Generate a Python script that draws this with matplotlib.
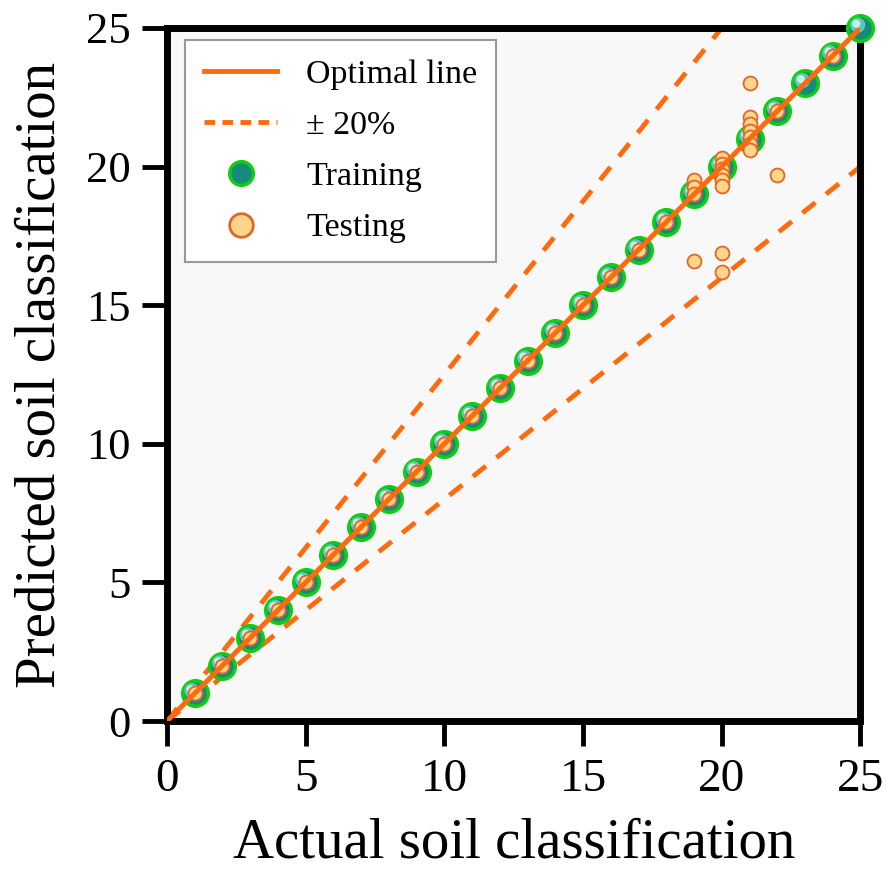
import matplotlib
matplotlib.use("Agg")
import matplotlib.pyplot as plt
import matplotlib.transforms as mtransforms
from matplotlib.lines import Line2D
import numpy as np

# ---- data ----
train_actual = list(range(1, 26))
train_pred = list(range(1, 26))

test_actual = [1, 2, 3, 4, 5, 6, 7, 8, 9, 10, 11, 12, 13, 14, 15, 16, 17, 18,
               19, 19, 19, 19,
               20, 20, 20, 20, 20, 20, 20, 20,
               21, 21, 21, 21, 21, 21, 21,
               22, 22, 24]
test_pred = [1, 2, 3, 4, 5, 6, 7, 8, 9, 10, 11, 12, 13, 14, 15, 16, 17, 18,
             19.5, 19.25, 19.0, 16.6,
             20.3, 20.1, 19.9, 19.7, 19.5, 19.3, 16.9, 16.2,
             21.8, 21.55, 21.3, 21.05, 20.8, 20.6, 23.0,
             22.0, 19.7, 24]

axis_limits = [0, 25]
ticks = [0, 5, 10, 15, 20, 25]
upper_factor = 1.25
lower_factor = 0.8

orange = "#ff6a0e"
serif = ["Liberation Serif", "DejaVu Serif"]

fig = plt.figure(figsize=(8.88, 8.72), dpi=100)
ax = fig.add_axes([0.188, 0.173, 0.781, 0.795])
ax.set_facecolor("#f8f8f8")

xs = np.array(axis_limits, dtype=float)
# dashed +-20% lines
ax.plot(xs, upper_factor * xs, color=orange, lw=3.5, ls=(0, (3.4, 2.8)), zorder=2)
ax.plot(xs, lower_factor * xs, color=orange, lw=3.5, ls=(0, (3.4, 2.8)), zorder=2)

# training points
ax.scatter(train_actual, train_pred, s=340, facecolor="#168a7c", edgecolor="#12cc12",
           linewidth=2.5, zorder=3, clip_on=False)
hl = ax.transData + mtransforms.ScaledTranslation(-2.0 / 72, 2.0 / 72, fig.dpi_scale_trans)
ax.scatter(train_actual, train_pred, s=120, facecolor="#5cc8b8", edgecolor="none",
           zorder=3.1, clip_on=False, transform=hl)
hl2 = ax.transData + mtransforms.ScaledTranslation(-3.0 / 72, 3.0 / 72, fig.dpi_scale_trans)
ax.scatter(train_actual, train_pred, s=35, facecolor="#c8f0ea", edgecolor="none",
           zorder=3.2, clip_on=False, transform=hl2)

# testing points
ax.scatter(test_actual, test_pred, s=100, facecolor="#ffd58a", edgecolor="#e0662a",
           linewidth=1.3, zorder=4, clip_on=False)

# optimal line
ax.plot(xs, xs, color=orange, lw=3.6, zorder=5, solid_capstyle="round")

ax.set_xlim(axis_limits)
ax.set_ylim(axis_limits)
ax.set_xticks(ticks)
ax.set_yticks(ticks)
ax.set_xticklabels([str(t) for t in ticks], fontsize=34, family=serif)
ax.set_yticklabels([str(t) for t in ticks], fontsize=32, family=serif)
ax.tick_params(axis="both", direction="out", length=18, width=3.5, color="black")
ax.tick_params(axis="x", pad=9)
ax.tick_params(axis="y", pad=8)
for sp in ax.spines.values():
    sp.set_linewidth(5)
    sp.set_color("black")

ax.set_xlabel("Actual soil classification", fontsize=41, family=serif, labelpad=12)
ax.set_ylabel("Predicted soil classification", fontsize=41, family=serif, labelpad=14)

handles = [
    Line2D([0], [0], color=orange, lw=3.5),
    Line2D([0], [0], color=orange, lw=3.5, ls=(0, (2.2, 1.5))),
    Line2D([0], [0], marker="o", ls="none", markersize=17, markerfacecolor="#168a7c",
           markeredgecolor="#12cc12", markeredgewidth=2.5),
    Line2D([0], [0], marker="o", ls="none", markersize=17, markerfacecolor="#ffd58a",
           markeredgecolor="#e0662a", markeredgewidth=2),
]
labels = ["Optimal line", "\u00b1 20%", "Training", "Testing"]
leg = ax.legend(handles, labels, loc="upper left", bbox_to_anchor=(0.012, 0.997),
                prop={"family": serif, "size": 24.5}, frameon=True, fancybox=False,
                edgecolor="#999999", facecolor="white", framealpha=1,
                handlelength=2.15, handletextpad=0.85, labelspacing=0.6,
                borderpad=0.55, borderaxespad=0.3)
leg.get_frame().set_linewidth(1.5)
leg.set_zorder(10)

fig.savefig("out.png", dpi=100)
